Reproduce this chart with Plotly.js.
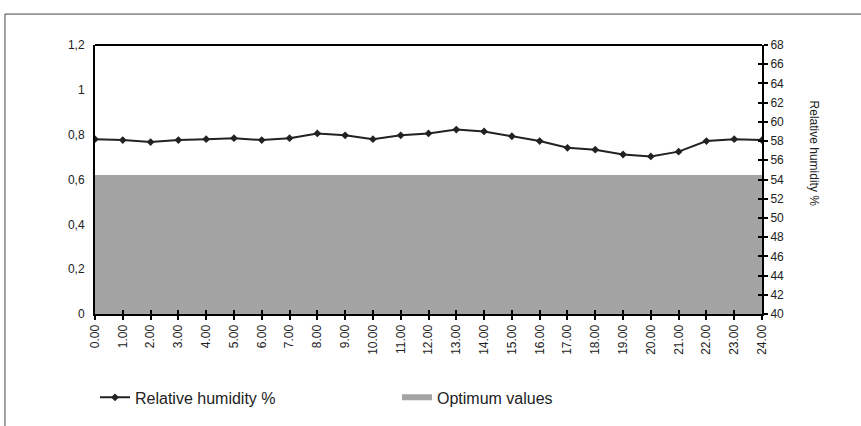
<!DOCTYPE html>
<html>
<head>
<meta charset="utf-8">
<script src="https://cdn.plot.ly/plotly-3.0.1.min.js"></script>
<style>html,body{margin:0;padding:0;background:#fff;}#chart{width:861px;height:426px;}</style>
</head>
<body>
<div id="chart"></div>
<script>
var hours = [0,1,2,3,4,5,6,7,8,9,10,11,12,13,14,15,16,17,18,19,20,21,22,23,24];
var hourLabels = ["0.00","1.00","2.00","3.00","4.00","5.00","6.00","7.00","8.00","9.00","10.00","11.00","12.00","13.00","14.00","15.00","16.00","17.00","18.00","19.00","20.00","21.00","22.00","23.00","24.00"];
var humidity = [58.2,58.1,57.9,58.1,58.2,58.3,58.1,58.3,58.8,58.6,58.2,58.6,58.8,59.2,59.0,58.5,58.0,57.3,57.1,56.6,56.4,56.9,58.0,58.2,58.1];
var optimum = [0.62,0.62,0.62,0.62,0.62,0.62,0.62,0.62,0.62,0.62,0.62,0.62,0.62,0.62,0.62,0.62,0.62,0.62,0.62,0.62,0.62,0.62,0.62,0.62,0.62];
var leftTicks = [0,0.2,0.4,0.6,0.8,1,1.2];
var leftTickText = ["0","0,2","0,4","0,6","0,8","1","1,2"];
var rightTicks = [40,42,44,46,48,50,52,54,56,58,60,62,64,66,68];

var traces = [
  {x: hours, y: humidity, name: "Relative humidity %", type: "scatter", mode: "lines+markers",
   yaxis: "y2", line: {color: "#222", width: 2}, marker: {symbol: "diamond", size: 6, color: "#222"}},
  {x: hours, y: optimum, name: "Optimum values", type: "scatter", mode: "none", fill: "tozeroy",
   fillcolor: "#a3a3a3", yaxis: "y"}
];

var tickFont = {family: "Liberation Sans, Arial, sans-serif", size: 12, color: "#222"};
var layout = {
  width: 861, height: 426,
  margin: {l: 95, r: 99, t: 45, b: 112},
  paper_bgcolor: "#fff", plot_bgcolor: "#fff",
  showlegend: true,
  font: tickFont,
  legend: {orientation: "h", x: 0, xanchor: "left", y: -0.31, yanchor: "middle",
           traceorder: "normal", entrywidth: 257, entrywidthmode: "pixels",
           font: {family: "Liberation Sans, Arial, sans-serif", size: 16, color: "#222"}},
  xaxis: {range: [0, 24], tickmode: "array", tickvals: hours, ticktext: hourLabels, tickangle: -90,
          showgrid: false, zeroline: false, showline: true, linecolor: "#000", linewidth: 2,
          ticks: "outside", ticklen: 4, tickwidth: 2, tickcolor: "#000", tickfont: tickFont,
          mirror: false},
  xaxis2: {range: [0, 24], overlaying: "x", tickmode: "array", tickvals: hours, showticklabels: false,
           showgrid: false, zeroline: false, ticks: "inside", ticklen: 4, tickwidth: 2, tickcolor: "#000", side: "bottom"},
  yaxis: {range: [0, 1.2], tickmode: "array", tickvals: leftTicks, ticktext: leftTickText,
          showgrid: false, zeroline: false, showline: true, linecolor: "#000", linewidth: 2,
          ticks: "", tickfont: tickFont, ticklabelstandoff: 6},
  yaxis2: {range: [40, 68], overlaying: "y", side: "right", tickmode: "array", tickvals: rightTicks,
           showgrid: false, zeroline: false, showline: true, linecolor: "#000", linewidth: 2,
           ticks: "outside", ticklen: 4, tickwidth: 2, tickcolor: "#000", tickfont: tickFont},
  yaxis3: {range: [40, 68], overlaying: "y", side: "right", tickmode: "array", tickvals: rightTicks,
           showticklabels: false, showgrid: false, zeroline: false, ticks: "inside", ticklen: 4, tickwidth: 2, tickcolor: "#000"},
  shapes: [
    {type: "line", xref: "paper", yref: "paper", x0: 0, x1: 1, y0: 1, y1: 1, line: {color: "#000", width: 2}},
    {type: "line", xref: "paper", yref: "paper", x0: -0.135, x1: -0.135, y0: 1.115, y1: -0.42, line: {color: "#444", width: 1}},
    {type: "line", xref: "paper", yref: "paper", x0: -0.135, x1: 1.15, y0: 1.115, y1: 1.115, line: {color: "#444", width: 1}}
  ],
  annotations: [
    {text: "Relative humidity %", xref: "paper", yref: "paper", x: 1.092, y: 0.595, showarrow: false,
     textangle: 90, font: {family: "Liberation Sans, Arial, sans-serif", size: 12, color: "#222"}}
  ]
};
// invisible trace to activate the overlay tick axes
traces.push({x: [0], y: [40], xaxis: "x2", yaxis: "y3", type: "scatter", mode: "markers", marker: {opacity: 0}, showlegend: false, hoverinfo: "skip"});

Plotly.newPlot("chart", traces, layout, {displayModeBar: false, staticPlot: true});
</script>
</body>
</html>
